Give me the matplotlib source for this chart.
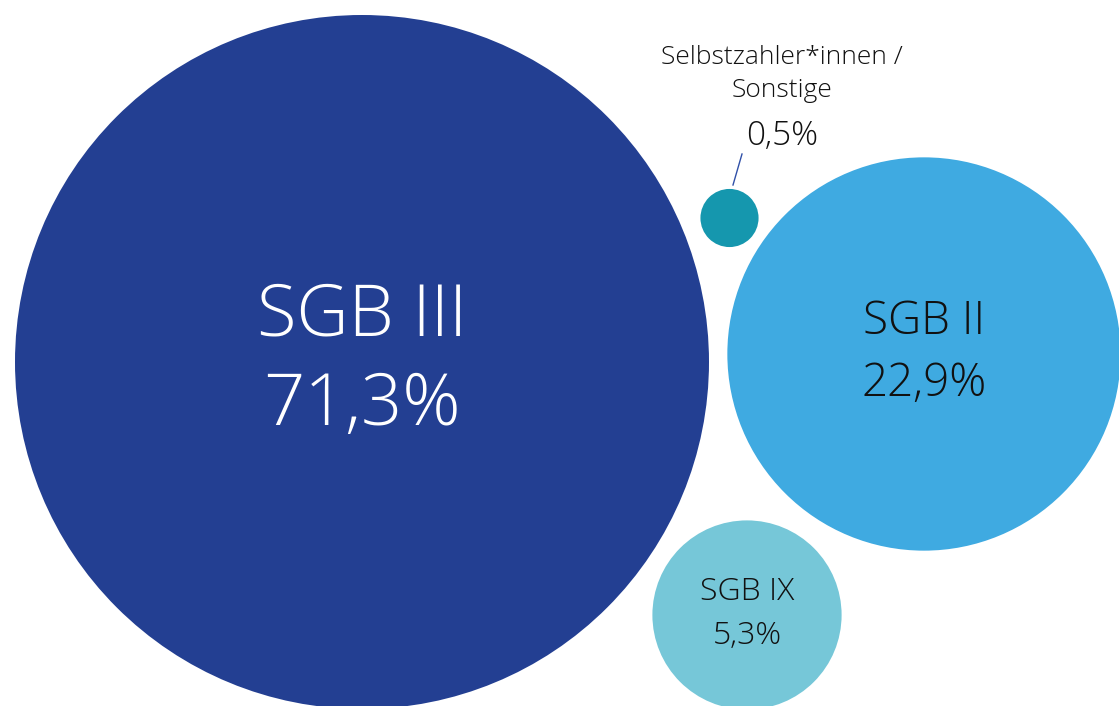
import matplotlib
matplotlib.use("Agg")
import matplotlib.pyplot as plt
from matplotlib.patches import Circle
import numpy as np

categories = ["SGB III", "SGB II", "SGB IX", "Selbstzahler*innen /\nSonstige"]
values = [71.3, 22.9, 5.3, 0.5]
value_labels = ["71,3%", "22,9%", "5,3%", "0,5%"]

# layout (pixel coordinates)
centers = [(362, 362), (924, 354), (747, 615), (729.5, 218)]
colors = ["#233F92", "#3FAAE1", "#76C7D8", "#1597AE"]
text_colors = ["white", "#111111", "#111111", "#111111"]
font_sizes = [52, 33, 23, 19]
line_gap = [89, 61, 45, 0]

plt.rcParams['font.family'] = ['Open Sans', 'DejaVu Sans']

fig = plt.figure(figsize=(11.19, 7.06), dpi=100)
ax = fig.add_axes([0, 0, 1, 1])
ax.set_xlim(0, 1119)
ax.set_ylim(706, 0)
ax.set_aspect('equal')
ax.axis('off')

k = 347 / np.sqrt(values[0])
for i, (cat, v) in enumerate(zip(categories, values)):
    r = k * np.sqrt(v)
    cx, cy = centers[i]
    ax.add_patch(Circle((cx, cy), r, facecolor=colors[i], edgecolor='none'))
    if i < 3:
        ax.text(cx, cy - line_gap[i] / 2 - 1, cat, ha='center', va='center',
                color=text_colors[i], fontsize=font_sizes[i], fontweight='light')
        ax.text(cx, cy + line_gap[i] / 2 - 1, value_labels[i], ha='center', va='center',
                color=text_colors[i], fontsize=font_sizes[i], fontweight='light')
    else:
        ax.text(782, 74, cat, ha='center', va='center', color=text_colors[i],
                fontsize=font_sizes[i], fontweight='light', linespacing=1.4)
        ax.text(782, 136, value_labels[i], ha='center', va='center',
                color=text_colors[i], fontsize=24, fontweight='light')
        ax.plot([733, 742], [185, 154], color="#3050A8", lw=1)

fig.savefig("out.png", dpi=100)
